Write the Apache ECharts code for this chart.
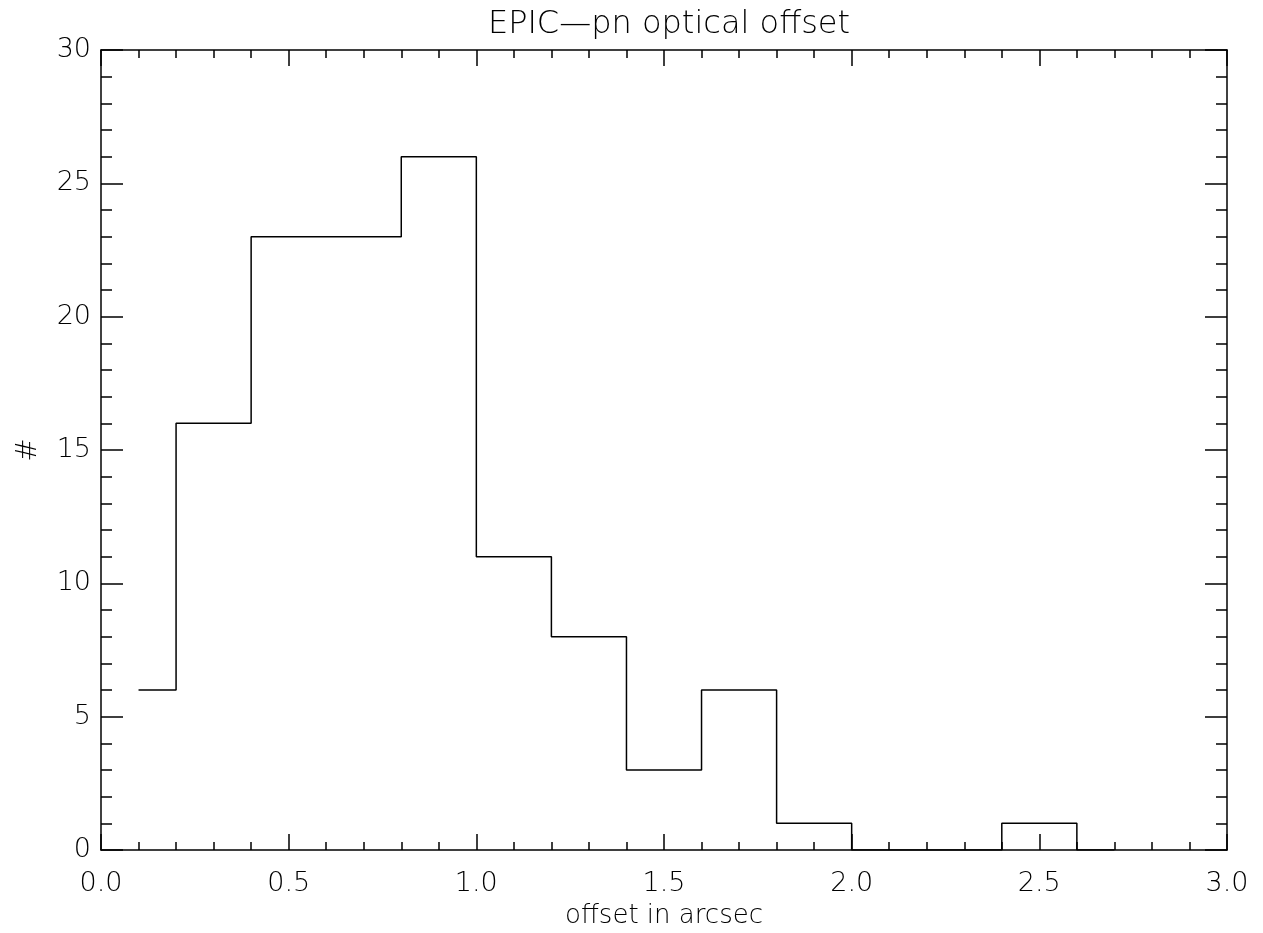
<!DOCTYPE html>
<html><head><meta charset="utf-8">
<script src="https://cdn.jsdelivr.net/npm/echarts@6/dist/echarts.min.js"></script>
<style>html,body{margin:0;padding:0;background:#fff}#c{width:1263px;height:933px}</style>
</head><body><div id="c"></div>
<script>
const binCenters = [0.1, 0.3, 0.5, 0.7, 0.9, 1.1, 1.3, 1.5, 1.7, 1.9, 2.1, 2.3, 2.5, 2.7];
const counts     = [6, 16, 23, 23, 26, 11, 8, 3, 6, 1, 0, 0, 1, 0];
const titleText = 'EPIC\u2014pn optical offset';
const xTitle = 'offset in arcsec';
const yTitle = '#';

const FONT = "'DejaVu Sans', sans-serif";
const txt = {color:'#000', fontFamily:FONT, fontWeight:200};
const chart = echarts.init(document.getElementById('c'));
const lineStyle = {color:'#000', width:1.5};
function xAx(pos, show){
  return {type:'value', position:pos, min:0, max:3, interval:0.5,
    axisLine:{show:true, onZero:false, lineStyle},
    axisTick:{show:true, inside:true, length:16, lineStyle},
    minorTick:{show:true, splitNumber:5, length:8, lineStyle},
    splitLine:{show:false},
    axisLabel:{show:show, margin:20, fontSize:27, ...txt, formatter:v=>v.toFixed(1)},
    name: show ? xTitle : '', nameLocation:'middle', nameGap:53,
    nameTextStyle:{fontSize:26, ...txt}};
}
function yAx(pos, show){
  return {type:'value', position:pos, min:0, max:30, interval:5,
    axisLine:{show:true, onZero:false, lineStyle},
    axisTick:{show:true, inside:true, length:22, lineStyle},
    minorTick:{show:true, splitNumber:5, length:11, lineStyle},
    splitLine:{show:false},
    axisLabel:{show:show, margin:10, fontSize:27, ...txt},
    name: show ? yTitle : '', nameLocation:'middle', nameGap:58, nameRotate:90,
    nameTextStyle:{fontSize:28, ...txt}};
}
chart.setOption({
  animation:false,
  title:{text:titleText, left:664, textAlign:'center', top:4,
    textStyle:{fontSize:32, ...txt}},
  grid:{left:101, right:36, top:50, bottom:83, containLabel:false, outerBoundsMode:'none'},
  xAxis:[xAx('bottom', true), xAx('top', false)],
  yAxis:[yAx('left', true), yAx('right', false)],
  series:[{type:'line', step:'middle', symbol:'none',
    data: binCenters.map((x,i)=>[x, counts[i]]),
    lineStyle:{color:'#000', width:1.5}}]
});
</script></body></html>
